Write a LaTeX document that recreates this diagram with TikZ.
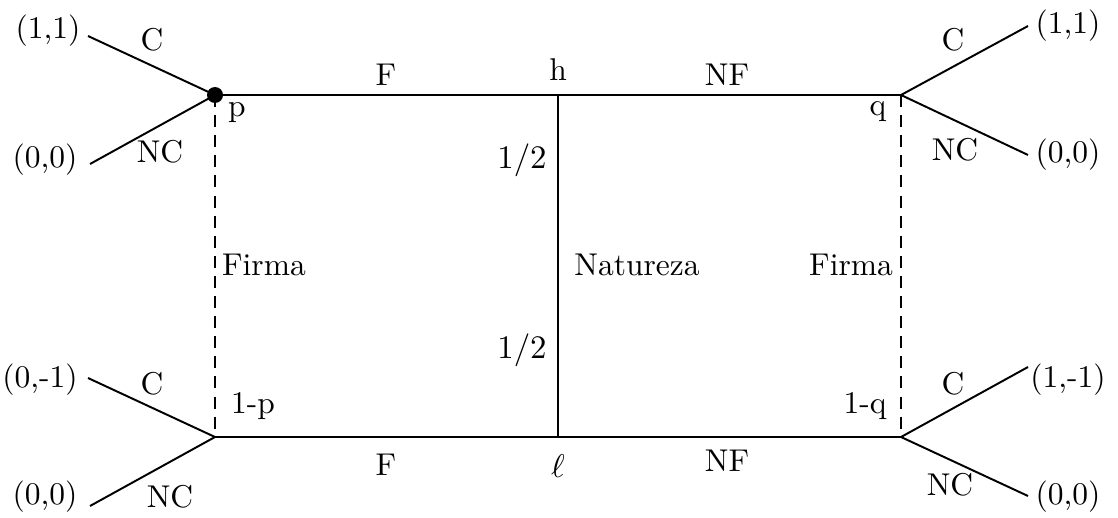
\documentclass[tikz,border=0pt]{standalone}
\begin{document}
\begin{tikzpicture}[x=0.3333pt,y=-0.3333pt,
  edge/.style={line width=0.65pt},
  info/.style={line width=0.65pt,dash pattern=on 4pt off 2.7pt},
  lbl/.style={inner sep=0pt,font=\fontsize{10.5}{12}\selectfont}]
\useasboundingbox (0,0) rectangle (1118,517);
% decision points
\coordinate (p) at (215,95);
\coordinate (h) at (558,95);
\coordinate (q) at (901,95);
\coordinate (pb) at (215,437);
\coordinate (l) at (558,437);
\coordinate (qb) at (901,437);
% branch ends
\coordinate (e1) at (88,36);
\coordinate (e2) at (90,164);
\coordinate (e3) at (88,378);
\coordinate (e4) at (90,506);
\coordinate (e5) at (1028,26);
\coordinate (e6) at (1028,155);
\coordinate (e7) at (1028,367);
\coordinate (e8) at (1028,496);
% edges
\draw[edge] (p) -- (h) -- (q);
\draw[edge] (pb) -- (l) -- (qb);
\draw[edge] (h) -- (l);
\draw[edge] (e1) -- (p) -- (e2);
\draw[edge] (e3) -- (pb) -- (e4);
\draw[edge] (e5) -- (q) -- (e6);
\draw[edge] (e7) -- (qb) -- (e8);
\draw[info] (p) -- (pb);
\draw[info] (q) -- (qb);
\fill (p) circle[radius=8];
% payoffs
\node[lbl] (o1) at (48,31) {(1,1)};
\node[lbl] (o2) at (45,160) {(0,0)};
\node[lbl] (o3) at (40,380) {(0,-1)};
\node[lbl] (o4) at (45,497) {(0,0)};
\node[lbl] (o5) at (1068,26) {(1,1)};
\node[lbl] (o6) at (1068,155) {(0,0)};
\node[lbl] (o7) at (1068,380) {(1,-1)};
\node[lbl] (o8) at (1068,497) {(0,0)};
% action labels
\node[lbl] (c1) at (152,40) {C};
\node[lbl] (n1) at (160,152) {NC};
\node[lbl] (c2) at (152,384) {C};
\node[lbl] (n2) at (170,497) {NC};
\node[lbl] (c3) at (953,40) {C};
\node[lbl] (n3) at (955,150) {NC};
\node[lbl] (c4) at (953,384) {C};
\node[lbl] (n4) at (950,485) {NC};
\node[lbl] (f1) at (386,75) {F};
\node[lbl] (nf1) at (727,75) {NF};
\node[lbl] (f2) at (386,465) {F};
\node[lbl] (nf2) at (727,461) {NF};
% node labels
\node[lbl] (lp) at (237,113) {p};
\node[lbl] (lq) at (878,112) {q};
\node[lbl] (lp2) at (253,406) {1-p};
\node[lbl] (lq2) at (865,406) {1-q};
\node[lbl] (lh) at (558,70) {h};
\node[lbl] (ll) at (558,466) {$\ell$};
\node[lbl] (pr1) at (522,160) {$1/2$};
\node[lbl] (pr2) at (522,350) {$1/2$};
\node[lbl] (fa) at (264,265) {Firma};
\node[lbl] (nat) at (637,265) {Natureza};
\node[lbl] (fb) at (851,265) {Firma};
\end{tikzpicture}
\end{document}
